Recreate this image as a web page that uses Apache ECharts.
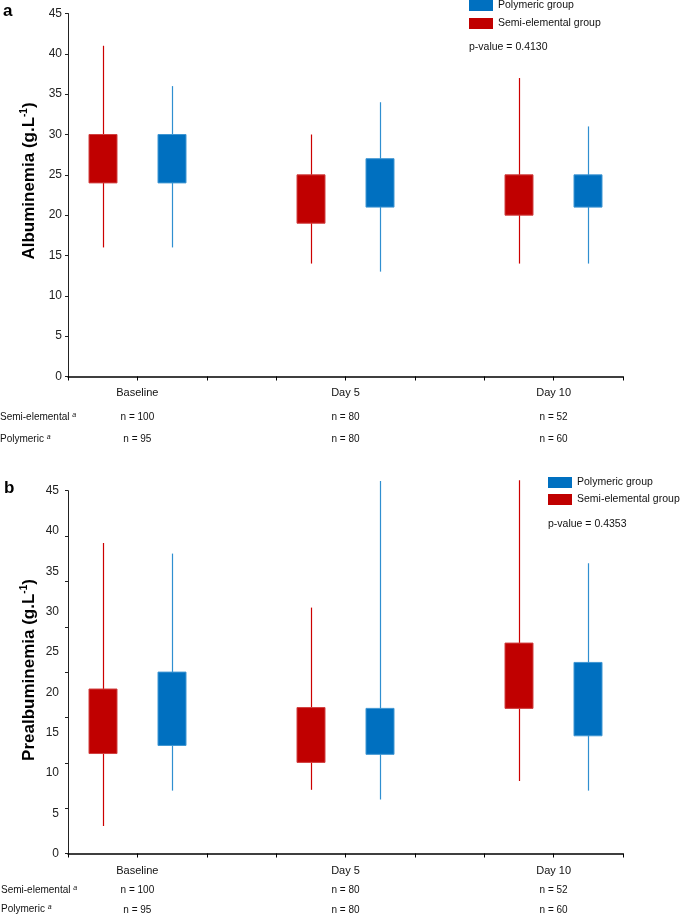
<!DOCTYPE html>
<html><head><meta charset="utf-8">
<script src="https://cdn.jsdelivr.net/npm/echarts@6/dist/echarts.min.js"></script>
<style>html,body{margin:0;padding:0;background:#fff}#c{width:685px;height:919px}</style>
</head><body><div id="c"></div>
<script>
// ---- data ----
const categories = ['Baseline', 'Day 5', 'Day 10'];
const categoryPos = [1, 4, 7];          // x position of category label
const semiPos = [0.5, 3.5, 6.5];        // x position of semi-elemental box
const polyPos = [1.5, 4.5, 7.5];        // x position of polymeric box
const nSemi = [100, 80, 52];
const nPoly = [95, 80, 60];
// [min, q1, q3, max]
const albSemi = [[16, 24, 30, 41], [14, 19, 25, 30], [14, 20, 25, 37]];
const albPoly = [[16, 24, 30, 36], [13, 21, 27, 34], [14, 21, 25, 31]];
const preSemi = [[3.4, 12.4, 20.4, 38.5], [7.9, 11.3, 18.1, 30.5], [9.0, 18.0, 26.1, 46.3]];
const prePoly = [[7.8, 13.4, 22.5, 37.2], [6.7, 12.3, 18.0, 46.2], [7.8, 14.6, 23.7, 36.0]];
const pA = 'p-value = 0.4130';
const pB = 'p-value = 0.4353';

const RED = '#C00000', BLUE = '#0070C0';
const whiskerColor = {'Semi-elemental group': '#cc0000', 'Polymeric group': '#2f8fd0'};
const edgeColor = {'Semi-elemental group': '#d04040', 'Polymeric group': '#3f96d2'};
const FONT = 'Liberation Sans, Arial, sans-serif';

function rows(pos, vals) { return vals.map((v, i) => [pos[i], v[0], v[1], v[2], v[3]]); }

function renderBox(params, api) {
  const x = api.value(0);
  const lo = api.coord([x, api.value(1)]);
  const q1 = api.coord([x, api.value(2)]);
  const q3 = api.coord([x, api.value(3)]);
  const hi = api.coord([x, api.value(4)]);
  const w = api.size([0.41, 0])[0];
  const cx = Math.round(lo[0]) + 0.5;
  const name = params.seriesName;
  return {type: 'group', children: [
    {type: 'line', shape: {x1: cx, y1: hi[1], x2: cx, y2: lo[1]}, style: {stroke: whiskerColor[name], lineWidth: 1.2}},
    {type: 'rect', shape: {x: Math.round(cx - w / 2), y: q3[1], width: Math.round(w), height: q1[1] - q3[1]},
      style: {fill: api.visual('color'), stroke: edgeColor[name], lineWidth: 1}}
  ]};
}

function xAxisFor(gridIndex, lh1, lh2, margin) {
  return {
    type: 'value', gridIndex, min: 0, max: 8, interval: 1,
    axisLine: {lineStyle: {color: '#000', width: 1.5}},
    axisTick: {show: true, length: 4, lineStyle: {color: '#000', width: 1}},
    splitLine: {show: false},
    axisLabel: {
      margin, interval: 0, showMinLabel: true, showMaxLabel: true,
      formatter: v => {
        const i = categoryPos.indexOf(v);
        if (i < 0) return '';
        return '{c|' + categories[i] + '}\n{n|n = ' + nSemi[i] + '}\n{n|n = ' + nPoly[i] + '}';
      },
      rich: {
        c: {fontSize: 11, lineHeight: lh1, color: '#111', fontFamily: FONT},
        n: {fontSize: 10, lineHeight: lh2, color: '#111', fontFamily: FONT}
      }
    }
  };
}

function yTitle(label, x, y) {
  return {type: 'text', x, y, rotation: Math.PI / 2,
    style: {text: '{t|' + label + ' (g.L}{s|-1}{t|)}', align: 'center', verticalAlign: 'middle',
      rich: {
        t: {fontSize: 17, fontWeight: 'bold', fill: '#000', fontFamily: FONT, lineHeight: 20},
        s: {fontSize: 10, fontWeight: 'bold', fill: '#000', fontFamily: FONT, verticalAlign: 'top', lineHeight: 20}
      }}};
}
const supRich = {r: {fontSize: 10, fontFamily: FONT, fill: '#111'}, s: {fontSize: 7, fontStyle: 'italic', fontFamily: FONT, fill: '#111', verticalAlign: 'top'}};

const option = {
  backgroundColor: '#fff',
  animation: false,
  grid: [
    {left: 68, width: 555, top: 13.5, height: 363},
    {left: 68, width: 555, top: 490.7, height: 362.8}
  ],
  xAxis: [xAxisFor(0, 26, 22, 3.5), xAxisFor(1, 19.5, 19.5, 7.75)],
  yAxis: [
    {type: 'value', gridIndex: 0, min: 0, max: 45, interval: 5, position: 'left',
      axisLine: {show: true, lineStyle: {color: '#222', width: 1}},
      axisTick: {show: true, length: 3, lineStyle: {color: '#222'}},
      splitLine: {show: false},
      axisLabel: {fontSize: 12, color: '#222', margin: 6, fontFamily: FONT}},
    {type: 'value', gridIndex: 1, min: 0, max: 45, interval: 5, position: 'left',
      axisLine: {show: true, lineStyle: {color: '#222', width: 1}},
      axisTick: {show: false},
      splitLine: {show: false},
      axisLabel: {fontSize: 12, color: '#222', margin: 9, fontFamily: FONT}},
    {type: 'value', gridIndex: 1, min: 0, max: 45, interval: 5.625, position: 'left', offset: 0,
      axisLine: {show: false}, axisLabel: {show: false}, splitLine: {show: false},
      axisTick: {show: true, length: 3, lineStyle: {color: '#222'}}}
  ],
  legend: [
    {orient: 'vertical', left: 469, top: 0, padding: 0, itemWidth: 24, itemHeight: 11, itemGap: 7,
      icon: 'rect', data: ['Polymeric group', 'Semi-elemental group'],
      textStyle: {fontSize: 10.5, color: '#111', fontFamily: FONT}, selectedMode: false},
    {orient: 'vertical', left: 548, top: 477, padding: 0, itemWidth: 24, itemHeight: 11, itemGap: 6,
      icon: 'rect', data: ['Polymeric group', 'Semi-elemental group'],
      textStyle: {fontSize: 10.5, color: '#111', fontFamily: FONT}, selectedMode: false}
  ],
  series: [
    {name: 'Semi-elemental group', type: 'custom', xAxisIndex: 0, yAxisIndex: 0, clip: false,
      itemStyle: {color: RED}, renderItem: renderBox, encode: {x: 0, y: [1, 2, 3, 4]}, data: rows(semiPos, albSemi)},
    {name: 'Polymeric group', type: 'custom', xAxisIndex: 0, yAxisIndex: 0, clip: false,
      itemStyle: {color: BLUE}, renderItem: renderBox, encode: {x: 0, y: [1, 2, 3, 4]}, data: rows(polyPos, albPoly)},
    {name: 'Semi-elemental group', type: 'custom', xAxisIndex: 1, yAxisIndex: 1, clip: false,
      itemStyle: {color: RED}, renderItem: renderBox, encode: {x: 0, y: [1, 2, 3, 4]}, data: rows(semiPos, preSemi)},
    {name: 'Polymeric group', type: 'custom', xAxisIndex: 1, yAxisIndex: 1, clip: false,
      itemStyle: {color: BLUE}, renderItem: renderBox, encode: {x: 0, y: [1, 2, 3, 4]}, data: rows(polyPos, prePoly)}
  ],
  graphic: [
    {type: 'text', left: 3, top: 3, style: {text: 'a', font: 'bold 17px ' + FONT, fill: '#000'}},
    {type: 'text', left: 4, top: 480, style: {text: 'b', font: 'bold 17px ' + FONT, fill: '#000'}},
    yTitle('Albuminemia', 29, 181),
    yTitle('Prealbuminemia', 29, 670),
    {type: 'text', left: 469, top: 42, style: {text: pA, font: '10.5px ' + FONT, fill: '#111'}},
    {type: 'text', left: 548, top: 519, style: {text: pB, font: '10.5px ' + FONT, fill: '#111'}},
    {type: 'text', left: 0, top: 412, style: {text: '{r|Semi-elemental }{s|a}', rich: supRich}},
    {type: 'text', left: 0, top: 434, style: {text: '{r|Polymeric }{s|a}', rich: supRich}},
    {type: 'text', left: 1, top: 885, style: {text: '{r|Semi-elemental }{s|a}', rich: supRich}},
    {type: 'text', left: 1, top: 904, style: {text: '{r|Polymeric }{s|a}', rich: supRich}}
  ]
};
const chart = echarts.init(document.getElementById('c'), null, {renderer: 'canvas'});
chart.setOption(option);
</script></body></html>
